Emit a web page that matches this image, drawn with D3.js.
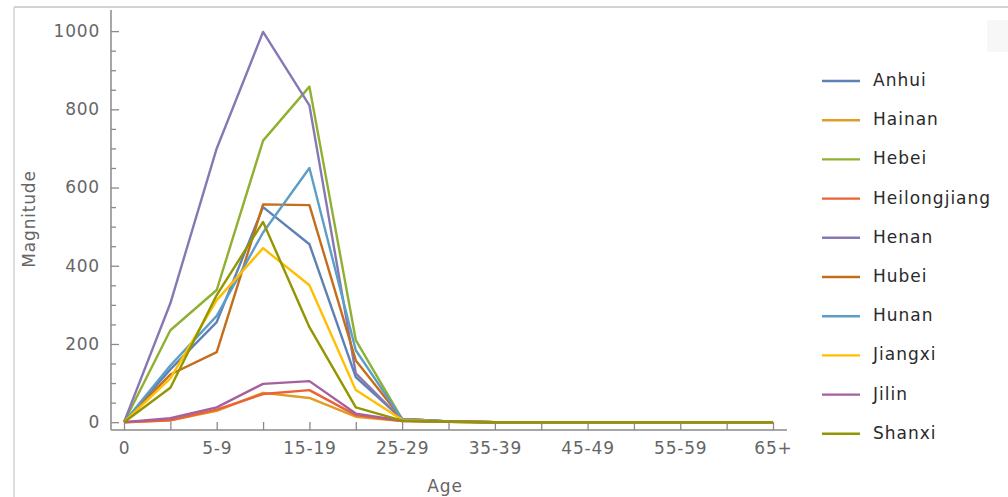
<!DOCTYPE html>
<html>
<head>
<meta charset="utf-8">
<script src="https://cdn.jsdelivr.net/npm/d3@7"></script>
<style>
  body { margin: 0; background: #fff; }
  svg text { font-family: "DejaVu Sans", sans-serif; }
</style>
</head>
<body>
<svg id="chart" width="1008" height="497"></svg>
<script>
// age groups along x
const ages = ["0", "1-4", "5-9", "10-14", "15-19", "20-24", "25-29", "30-34",
              "35-39", "40-44", "45-49", "50-54", "55-59", "60-64", "65+"];

const provinces = ["Anhui", "Hainan", "Hebei", "Heilongjiang", "Henan",
                   "Hubei", "Hunan", "Jiangxi", "Jilin", "Shanxi"];

// magnitude per age group
const anhui        = [0, 135, 256, 550, 455, 115, 8, 2, 0, 0, 0, 0, 0, 0, 0];
const hainan       = [0, 5, 29, 75, 62, 14, 3, 1, 0, 0, 0, 0, 0, 0, 0];
const hebei        = [0, 235, 338, 720, 858, 210, 8, 2, 0, 0, 0, 0, 0, 0, 0];
const heilongjiang = [0, 5, 32, 72, 82, 18, 3, 1, 0, 0, 0, 0, 0, 0, 0];
const henan        = [0, 304, 700, 998, 810, 125, 6, 2, 0, 0, 0, 0, 0, 0, 0];
const hubei        = [0, 122, 179, 557, 555, 158, 8, 2, 0, 0, 0, 0, 0, 0, 0];
const hunan        = [0, 145, 272, 485, 650, 184, 8, 2, 0, 0, 0, 0, 0, 0, 0];
const jiangxi      = [0, 112, 312, 445, 350, 82, 6, 1, 0, 0, 0, 0, 0, 0, 0];
const jilin        = [0, 10, 38, 98, 105, 22, 4, 1, 0, 0, 0, 0, 0, 0, 0];
const shanxi       = [0, 88, 325, 512, 243, 38, 4, 1, 0, 0, 0, 0, 0, 0, 0];

const seriesValues = [anhui, hainan, hebei, heilongjiang, henan,
                      hubei, hunan, jiangxi, jilin, shanxi];

const yTicks = [0, 200, 400, 600, 800, 1000];

// Mathematica default palette
const colors = ["#5E81B5", "#E19C24", "#8FB032", "#EB6235", "#8778B3",
                "#C56E1A", "#5D9EC7", "#FFBF00", "#A5609D", "#929600"];

const svg = d3.select("#chart");

// frame of the screenshot
svg.append("line").attr("x1", 14).attr("x2", 1008).attr("y1", 7).attr("y2", 7)
   .attr("stroke", "#d2d2d2").attr("stroke-width", 2);
svg.append("line").attr("x1", 14).attr("x2", 14).attr("y1", 7).attr("y2", 497)
   .attr("stroke", "#d2d2d2").attr("stroke-width", 1.5);
svg.append("rect").attr("x", 987).attr("y", 20).attr("width", 21).attr("height", 32)
   .attr("fill", "#f7f7f7");

const x = d3.scalePoint().domain(ages).range([124, 773]);
const y = d3.scaleLinear().domain([-20, 1054]).range([430, 10]);

const axisColor = "#8a8a8a";

// y axis
const yAxis = svg.append("g")
  .attr("transform", "translate(111,0)")
  .call(d3.axisLeft(y).tickValues(yTicks).tickSize(-8).tickPadding(11)
    .tickFormat(d3.format("d")));
yAxis.select(".domain").remove();

const minor = d3.range(50, 1050, 50).filter(v => v % 200 !== 0);
const yMinor = svg.append("g")
  .attr("transform", "translate(111,0)")
  .call(d3.axisLeft(y).tickValues(minor).tickSize(-5).tickFormat(""));
yMinor.select(".domain").remove();

// x axis
const xAxis = svg.append("g")
  .attr("transform", "translate(0,430)")
  .call(d3.axisBottom(x).tickSize(-8).tickPadding(12)
    .tickFormat((d, i) => i % 2 === 0 ? d : ""));
xAxis.select(".domain").remove();

svg.selectAll(".tick line").attr("stroke", axisColor).attr("stroke-width", 1.3);
svg.selectAll(".tick text")
   .attr("fill", "#666")
   .style("font-size", "17px")
   .style("letter-spacing", "0.8px");

svg.append("line").attr("x1", 111).attr("x2", 111).attr("y1", 10).attr("y2", 430)
   .attr("stroke", axisColor).attr("stroke-width", 1.5);
svg.append("line").attr("x1", 111).attr("x2", 787).attr("y1", 430).attr("y2", 430)
   .attr("stroke", axisColor).attr("stroke-width", 1.5);

// axis titles
svg.append("text")
  .attr("x", 445).attr("y", 487)
  .attr("text-anchor", "middle").attr("dominant-baseline", "middle")
  .attr("fill", "#666")
  .style("font-size", "17px").style("letter-spacing", "0.8px")
  .text("Age");

svg.append("text")
  .attr("transform", "translate(30,219) rotate(-90)")
  .attr("text-anchor", "middle").attr("dominant-baseline", "middle")
  .attr("fill", "#666")
  .style("font-size", "17px").style("letter-spacing", "0.8px")
  .text("Magnitude");

// lines
const line = d3.line()
  .x((d, i) => x(ages[i]))
  .y(d => y(d));

svg.append("g").selectAll("path")
  .data(seriesValues)
  .enter().append("path")
    .attr("d", line)
    .attr("fill", "none")
    .attr("stroke", (d, i) => colors[i])
    .attr("stroke-width", 2.4)
    .attr("stroke-linejoin", "round");

// legend
const legend = svg.append("g").selectAll("g")
  .data(provinces)
  .enter().append("g")
    .attr("transform", (d, i) => `translate(822,${81 + i * 39.2})`);

legend.append("line")
  .attr("x1", 0).attr("x2", 38)
  .attr("stroke", (d, i) => colors[i])
  .attr("stroke-width", 2.4);

legend.append("text")
  .attr("x", 51)
  .attr("dominant-baseline", "middle")
  .attr("fill", "#2a2a2a")
  .style("font-size", "17px")
  .style("letter-spacing", "1px")
  .text(d => d);
</script>
</body>
</html>
